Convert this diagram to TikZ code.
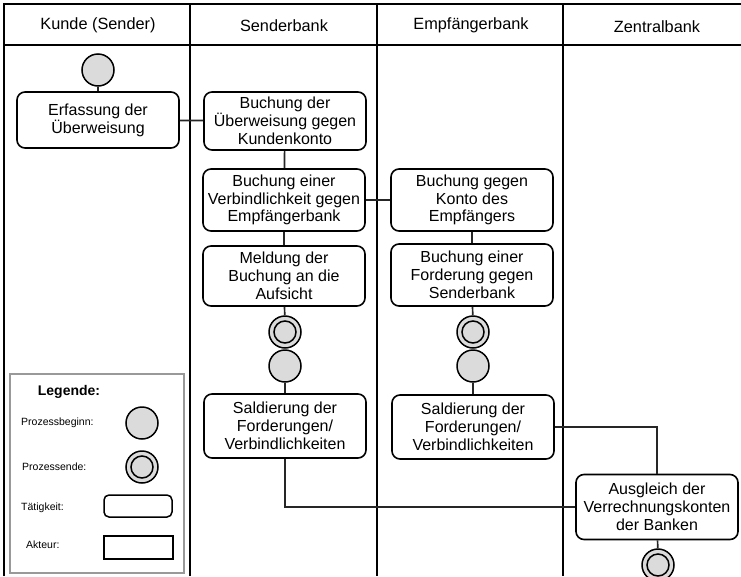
\documentclass[tikz,border=0pt]{standalone}
\usepackage{fontspec}
\setmainfont{Liberation Sans}
\begin{document}
\begin{tikzpicture}[x=1pt, y=-1pt,
    lane/.style={line width=1.8pt},
    act/.style={draw, line width=1.6pt, rounded corners=8pt, align=center, minimum width=162pt, minimum height=62pt, inner sep=1pt, font=\fontsize{16}{17.8}\selectfont},
    startpt/.style={draw, circle, line width=1.5pt, fill=black!14, minimum size=32pt, inner sep=0pt},
    endpt/.style={startpt, path picture={\draw[line width=1.5pt] (path picture bounding box.center) circle (11pt);}},
    flow/.style={line width=1.7pt, draw=black!85},
    head/.style={font=\fontsize{16.3}{18}\selectfont},
    legtext/.style={font=\fontsize{10.5}{12}\selectfont, anchor=west, inner sep=0pt}]
  \useasboundingbox (0,0) rectangle (741,576);
  % swimlanes
  \draw[lane] (4,576) -- (4,4) -- (741,4);
  \draw[lane] (4,45) -- (741,45);
  \foreach \x in {190,377,563} \draw[lane] (\x,4) -- (\x,576);
  \node[head] (h1) at (98,25) {Kunde (Sender)};
  \node[head] (h2) at (284,26) {Senderbank};
  \node[head] (h3) at (471,25) {Empfängerbank};
  \node[head] (h4) at (657,27) {Zentralbank};
  % Kunde
  \node[startpt] (s1) at (98,70) {};
  \node[act, minimum height=56pt] (erf) at (98,120) {Erfassung der\\Überweisung};
  % Senderbank
  \node[act, minimum height=58pt] (bku) at (285,121) {Buchung der\\Überweisung gegen\\Kundenkonto};
  \node[act] (bve) at (284,200) {Buchung einer\\Verbindlichkeit gegen\\Empfängerbank};
  \node[act, minimum height=60pt] (mel) at (284,276) {Meldung der\\Buchung an die\\Aufsicht};
  \node[endpt] (e1) at (285,332) {};
  \node[startpt] (s2) at (285,366) {};
  \node[act, minimum height=64pt] (sal1) at (285,426) {Saldierung der\\Forderungen/\\Verbindlichkeiten};
  % Empfaengerbank
  \node[act] (bke) at (472,200) {Buchung gegen\\Konto des\\Empfängers};
  \node[act] (bfo) at (472,275) {Buchung einer\\Forderung gegen\\Senderbank};
  \node[endpt] (e2) at (473,332) {};
  \node[startpt] (s3) at (473,366) {};
  \node[act, minimum height=64pt] (sal2) at (473,427) {Saldierung der\\Forderungen/\\Verbindlichkeiten};
  % Zentralbank
  \node[act, minimum height=65pt] (aus) at (657,507) {Ausgleich der\\Verrechnungskonten\\der Banken};
  \node[endpt] (e3) at (658,565) {};
  % flows
  \draw[flow] (s1) to (erf);
  \draw[flow] (erf) to (bku);
  \draw[flow] (bku) to (bve);
  \draw[flow] (bve) to (bke);
  \draw[flow] (bve) to (mel);
  \draw[flow] (mel) to (e1);
  \draw[flow] (bke) to (bfo);
  \draw[flow] (bfo) to (e2);
  \draw[flow] (s2) to (sal1);
  \draw[flow] (s3) to (sal2);
  \draw[flow] (sal2.east) -| (aus.north);
  \draw[flow] (sal1.south) |- (aus.west);
  \draw[flow] (aus) to (e3);
  % Legende
  \node[draw=black!40, line width=1.6pt, fill=white, minimum width=174pt, minimum height=199pt] (leg) at (97,473.5) {};
  \node[font=\bfseries\fontsize{14}{16}\selectfont] (legt) at (69,392) {Legende:};
  \node[legtext] (lb) at (21,423) {Prozessbeginn:};
  \node[startpt] (lbc) at (142,423) {};
  \node[legtext] (le) at (22,467) {Prozessende:};
  \node[endpt] (lec) at (142,467) {};
  \node[legtext] (lt) at (21,508) {Tätigkeit:};
  \node[draw, line width=1.5pt, rounded corners=5pt, minimum width=68pt, minimum height=22pt] (ltb) at (138,506) {};
  \node[legtext] (la) at (26,545) {Akteur:};
  \node[draw, line width=1.5pt, minimum width=69pt, minimum height=23pt] (lab) at (138.5,547.5) {};
\end{tikzpicture}
\end{document}
